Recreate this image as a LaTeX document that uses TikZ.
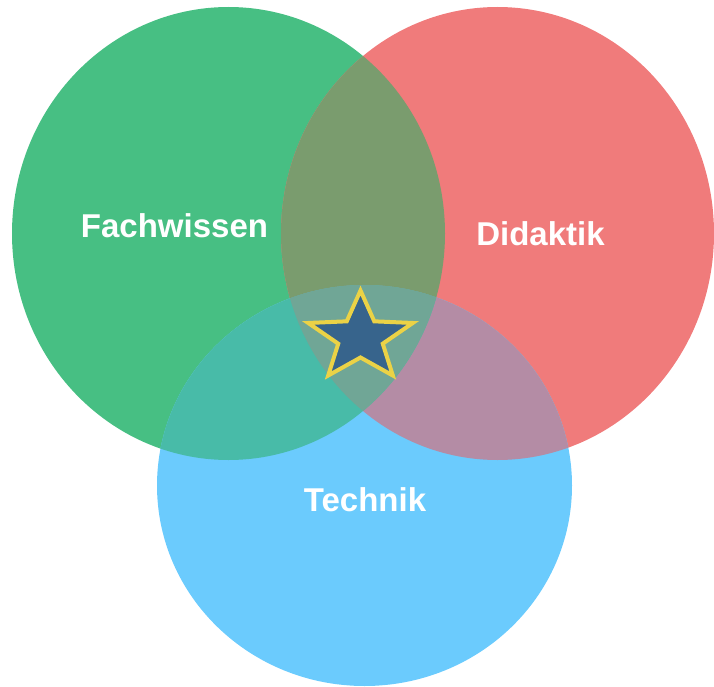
\documentclass[tikz,border=0pt]{standalone}
\usepackage{fontspec}
\setmainfont{Liberation Sans}
\definecolor{cG}{RGB}{71,191,131}
\definecolor{cR}{RGB}{240,123,123}
\definecolor{cB}{RGB}{107,203,253}
\definecolor{cGR}{RGB}{122,156,110}
\definecolor{cGB}{RGB}{72,187,168}
\definecolor{cRB}{RGB}{180,140,165}
\definecolor{cGRB}{RGB}{112,166,150}
\definecolor{starfill}{RGB}{55,100,140}
\definecolor{staredge}{RGB}{235,210,70}
\begin{document}
\begin{tikzpicture}[x=1pt,y=-1pt,
  lbl/.style={text=white,font=\bfseries\fontsize{33}{36}\selectfont,anchor=base,inner sep=0pt},
  starstyle/.style={fill=starfill,draw=staredge,line width=4pt,line join=miter}]
\useasboundingbox (0,0) rectangle (714,687);
\def\greenE{(228.5,233.5) ellipse [x radius=216.5,y radius=226.5]}
\def\redE{(497.5,233.5) ellipse [x radius=216.5,y radius=226.5]}
\def\blueE{(364.5,485.5) ellipse [x radius=207.5,y radius=200.5]}
\fill[cG] \greenE;
\fill[cR] \redE;
\fill[cB] \blueE;
\begin{scope}
  \clip \greenE;
  \fill[cGR] \redE;
\end{scope}
\begin{scope}
  \clip \blueE;
  \begin{scope}
    \clip \redE;
    \fill[cRB] (0,0) rectangle (714,687);
  \end{scope}
  \clip \greenE;
  \fill[cGB] (0,0) rectangle (714,687);
  \clip \redE;
  \fill[cGRB] (0,0) rectangle (714,687);
\end{scope}
\draw[starstyle,shift={(360.5,337.5)},xscale=1.17]
  (270:47) -- (306:20) -- (342:47) -- (18:20) -- (54:47) -- (90:20)
  -- (126:47) -- (162:20) -- (198:47) -- (234:20) -- cycle;
\node[lbl] (fach) at (174.5,237) {Fachwissen};
\node[lbl] (dida) at (540.5,245) {Didaktik};
\node[lbl] (tech) at (365,511) {Technik};
\end{tikzpicture}
\end{document}
